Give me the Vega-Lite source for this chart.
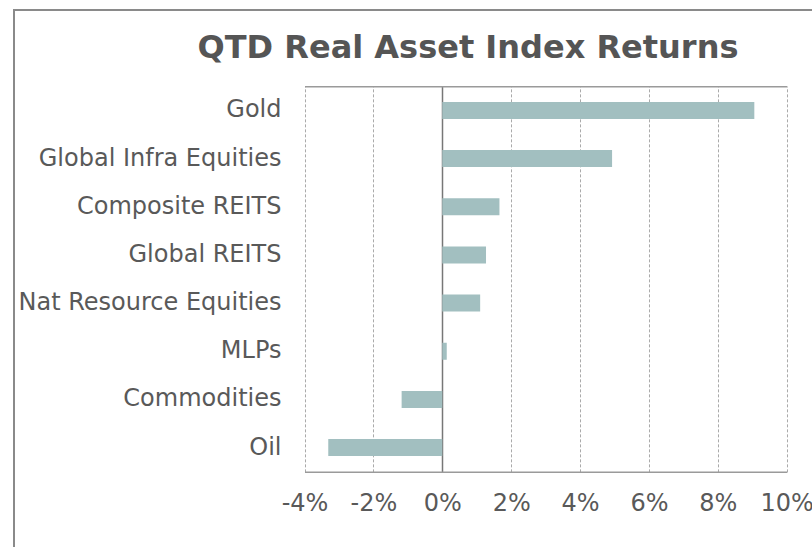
{
  "$schema": "https://vega.github.io/schema/vega-lite/v6.json",
  "autosize": "none",
  "padding": {"left": 14, "top": 10, "right": 0, "bottom": 0},
  "width": 800,
  "height": 538,
  "background": "white",
  "title": {
    "text": "QTD Real Asset Index Returns",
    "anchor": "middle",
    "frame": "group",
    "offset": 0,
    "baseline": "alphabetic",
    "dx": 54,
    "dy": 80,
    "font": "DejaVu Sans",
    "fontSize": 32,
    "fontWeight": "bold",
    "color": "#555555"
  },
  "data": {
    "values": [
      {"asset": "Gold", "ret": 9.06},
      {"asset": "Global Infra Equities", "ret": 4.93},
      {"asset": "Composite REITS", "ret": 1.66},
      {"asset": "Global REITS", "ret": 1.27},
      {"asset": "Nat Resource Equities", "ret": 1.1},
      {"asset": "MLPs", "ret": 0.13},
      {"asset": "Commodities", "ret": -1.18},
      {"asset": "Oil", "ret": -3.31}
    ]
  },
  "layer": [
    {
      "mark": {"type": "bar", "color": "#a2bfc0"},
      "encoding": {
        "y": {
          "field": "asset",
          "type": "nominal",
          "sort": null,
          "scale": {"range": [76.15, 461.85], "paddingInner": 0.647, "paddingOuter": 0.327},
          "axis": {
            "title": null,
            "orient": "left",
            "offset": -290.5,
            "domain": false,
            "ticks": false,
            "tickSize": 0,
            "grid": false,
            "labelPadding": 23.5,
            "labelFont": "DejaVu Sans",
            "labelFontSize": 24,
            "labelColor": "#595959",
            "labelOverlap": false,
            "labelLimit": 500
          }
        },
        "x": {
          "field": "ret",
          "type": "quantitative",
          "scale": {"domain": [-4, 10], "range": [290.5, 772.7], "nice": false, "zero": false},
          "axis": {
            "title": null,
            "orient": "bottom",
            "offset": -76.15,
            "values": [-4, -2, 0, 2, 4, 6, 8, 10],
            "labelExpr": "datum.value + '%'",
            "ticks": false,
            "tickSize": 0,
            "domain": true,
            "domainColor": "#9a9a9a",
            "domainWidth": 1.5,
            "grid": true,
            "gridColor": {"condition": {"test": "datum.value === 0", "value": "#777777"}, "value": "#aaaaaa"},
            "gridDash": {"condition": {"test": "datum.value === 0", "value": [1, 0]}, "value": [3, 2]},
            "gridWidth": {"condition": {"test": "datum.value === 0", "value": 1.5}, "value": 1},
            "labelPadding": 20,
            "labelFont": "DejaVu Sans",
            "labelFontSize": 24,
            "labelColor": "#595959",
            "labelFlush": false,
            "labelOverlap": false
          }
        }
      }
    },
    {
      "mark": {"type": "bar", "opacity": 0},
      "encoding": {
        "x": {
          "field": "ret",
          "type": "quantitative",
          "scale": {"domain": [-4, 10], "range": [290.5, 772.7], "nice": false, "zero": false},
          "axis": {
            "title": null,
            "orient": "top",
            "offset": -76.15,
            "labels": false,
            "ticks": false,
            "grid": false,
            "domain": true,
            "domainColor": "#9a9a9a",
            "domainWidth": 1.5
          }
        }
      }
    }
  ],
  "resolve": {"axis": {"x": "independent"}},
  "config": {
    "font": "DejaVu Sans",
    "view": {"stroke": "#8a8a8a", "strokeWidth": 2}
  }
}
